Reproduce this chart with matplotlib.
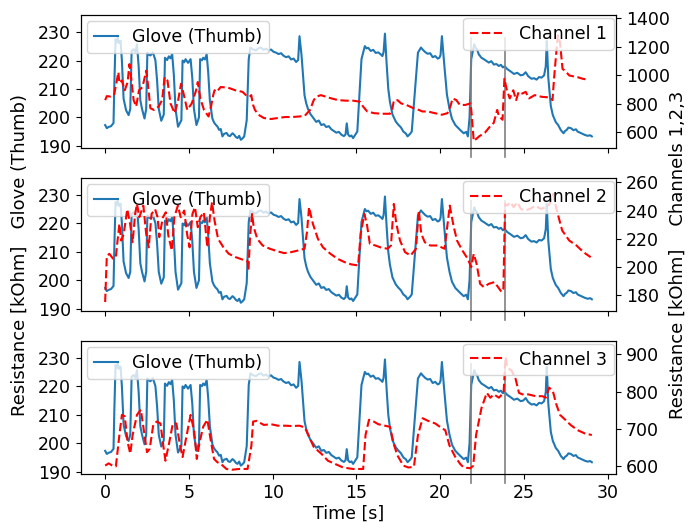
import numpy as np
import matplotlib.pyplot as plt

plt.rcParams['font.size'] = 12.5

# glove (thumb) resistance, same curve in all three panels (10 points per line)
t_glove = [0, 0.1, 0.2, 0.35, 0.5, 0.55, 0.62, 0.68, 0.75, 0.82,
           0.92, 1.0, 1.1, 1.25, 1.4, 1.5, 1.58, 1.7, 1.8, 1.9,
           2.0, 2.1, 2.2, 2.35, 2.45, 2.52, 2.6, 2.7, 2.85, 3.0,
           3.1, 3.2, 3.35, 3.5, 3.57, 3.7, 3.8, 3.9, 4.0, 4.1,
           4.2, 4.35, 4.55, 4.62, 4.72, 4.8, 4.95, 5.1, 5.2, 5.3,
           5.45, 5.6, 5.67, 5.78, 5.85, 5.95, 6.06, 6.15, 6.25, 6.4,
           6.5, 6.6, 6.7, 6.8, 6.9, 7.0, 7.1, 7.25, 7.35, 7.45,
           7.6, 7.7, 7.8, 7.9, 8.0, 8.1, 8.2, 8.3, 8.45, 8.57,
           8.67, 8.8, 9.0, 9.15, 9.3, 9.45, 9.6, 9.75, 9.9, 10.05,
           10.2, 10.35, 10.5, 10.65, 10.8, 10.95, 11.1, 11.25, 11.4, 11.52,
           11.6, 11.72, 11.9, 12.0, 12.1, 12.25, 12.45, 12.6, 12.75, 12.9,
           13.05, 13.2, 13.35, 13.5, 13.65, 13.8, 13.95, 14.1, 14.25, 14.35,
           14.42, 14.5, 14.6, 14.7, 14.8, 15.05, 15.2, 15.3, 15.5, 15.6,
           15.7, 15.85, 16.0, 16.15, 16.3, 16.45, 16.55, 16.62, 16.7, 16.8,
           16.9, 17.0, 17.15, 17.35, 17.5, 17.65, 17.8, 17.95, 18.05, 18.2,
           18.3, 18.5, 18.67, 18.85, 18.95, 19.1, 19.25, 19.4, 19.55, 19.7,
           19.85, 19.95, 20.02, 20.1, 20.25, 20.4, 20.55, 20.7, 20.9, 21.05,
           21.2, 21.4, 21.55, 21.65, 21.75, 21.85, 22.03, 22.1, 22.2, 22.3,
           22.46, 22.6, 22.75, 22.9, 23.05, 23.2, 23.35, 23.5, 23.62, 23.74,
           23.85, 24.0, 24.2, 24.4, 24.6, 24.8, 24.95, 25.1, 25.25, 25.45,
           25.6, 25.75, 25.9, 26.05, 26.2, 26.3, 26.36, 26.45, 26.6, 26.72,
           26.9, 27.04, 27.2, 27.36, 27.45, 27.55, 27.65, 27.8, 27.95, 28.1,
           28.2, 28.35, 28.5, 28.64, 28.8, 28.95, 29.05]
glove = [197.3, 196.2, 196.6, 196.9, 198.0, 212, 227.5, 226.4, 228, 226.2,
         227, 220, 206.6, 202.5, 200.8, 203, 223.4, 224, 223, 225.7,
         218, 206, 203, 199.6, 203, 222.8, 222.2, 221.8, 222.9, 220.1,
         213, 203, 198.8, 201, 221, 220.2, 221.5, 220.8, 222.3, 215,
         203, 196.7, 199, 220, 219.4, 220.5, 219.2, 220.5, 214, 203,
         197.3, 200, 220.5, 220.1, 221, 220.4, 222.2, 216, 206, 199.6,
         198.2, 197.4, 196.8, 195.6, 195.9, 193.3, 194.2, 194.5, 193.6, 193.4,
         194.4, 193.9, 193.1, 192.7, 193.5, 192.1, 192.6, 193.3, 199, 220.5,
         224.6, 224.0, 223.6, 224.3, 224.6, 223.8, 224.2, 223.5, 223.9, 223.1,
         222.8, 222.3, 222.6, 221.7, 221.2, 221.5, 220.4, 220.7, 219.5, 220.2,
         228.6, 222, 207.8, 205, 203.1, 201.2, 199.6, 198.4, 198.9, 197.3,
         197.6, 196.6, 196.9, 195.8, 195.2, 194.6, 194.9, 193.9, 193.4, 194,
         197.9, 194, 193.3, 193.6, 192.7, 195, 210, 220.5, 225.1, 224.3,
         224.5, 223.4, 223.8, 222.7, 222.9, 222.2, 221.6, 223, 229.5, 219,
         210, 205.4, 201, 198.5, 197.4, 196.5, 195, 194.3, 193.3, 194.2,
         195, 210, 222.8, 224.6, 223.9, 223, 222.4, 222.6, 221.2, 221.6,
         220.7, 221, 222, 228.6, 218, 208, 203.1, 199.5, 197.3, 196.4,
         195.5, 194.4, 194.9, 193.3, 200, 220.5, 225.7, 224.6, 223.9, 222.2,
         221, 220.5, 219.9, 219.3, 219.8, 218.6, 218.8, 218.1, 218.5, 217.6,
         218, 217, 216.2, 215.3, 215.7, 214.8, 215.0, 215.9, 214.5, 213.6,
         213.8, 213.3, 214.2, 214.0, 214.8, 218, 226.9, 214, 204, 200.8,
         198.3, 197.3, 195.5, 194.4, 195.2, 195.6, 196.4, 196.2, 195.5, 195.8,
         195, 194.6, 194.2, 193.8, 193.5, 193.7, 193.3]

t_ch1 = [0, 0.1, 0.32, 0.53, 0.7, 0.79, 0.85, 1.0, 1.17, 1.34, 1.45, 1.55, 1.7, 1.85, 2.02, 2.23, 2.45, 2.55,
         2.7, 2.91, 3.19, 3.4, 3.55, 3.72, 3.9, 4.15, 4.36, 4.53, 4.68, 4.9, 5.17, 5.43, 5.53, 5.68, 5.9,
         6.17, 6.32, 6.45, 6.53, 6.66, 6.9, 7.34, 7.77, 8.2, 8.4, 8.62, 8.72, 8.83, 8.94, 9.15, 9.47, 9.9,
         10.3, 10.74, 11.17, 11.6, 11.92, 12.23, 12.45, 12.6, 12.87, 13.2, 13.5, 13.9, 14.36, 14.8, 15.2,
         15.4, 15.64, 16.06, 16.5, 17.0, 17.13, 17.23, 17.45, 17.66, 17.98, 18.4, 18.72, 18.94, 19.26,
         19.68, 20.1, 20.43, 20.6, 20.74, 20.96, 21.17, 21.5, 21.81, 21.87, 22.0, 22.13, 22.34, 22.66,
         22.98, 23.19, 23.4, 23.51, 23.72, 23.83, 23.98, 24.15, 24.36, 24.53, 24.68, 24.9, 25.1, 25.3,
         25.64, 26.06, 26.5, 26.7, 26.8, 26.9, 27.02, 27.15, 27.3, 27.45, 27.7, 28.2, 28.5, 28.83]
ch1 = [825, 853, 850, 860, 963, 1021, 945, 963, 894, 950, 1078, 985, 825, 779, 894, 917, 1032, 940, 768,
       756, 779, 825, 986, 963, 802, 733, 825, 940, 871, 756, 802, 894, 952, 837, 756, 710, 779, 860, 894,
       883, 917, 912, 894, 883, 860, 848, 860, 791, 756, 722, 699, 692, 699, 706, 706, 710, 715, 756, 825,
       848, 860, 848, 837, 825, 821, 821, 814, 779, 745, 733, 729, 729, 756, 821, 825, 802, 791, 768, 756,
       745, 745, 733, 722, 733, 779, 837, 825, 791, 791, 802, 733, 538, 550, 572, 595, 641, 664, 756, 710,
       687, 975, 894, 837, 894, 825, 883, 871, 883, 837, 860, 848, 844, 825, 986, 1124, 1280, 1230, 1044,
       1032, 998, 986, 975, 968]

t_ch2 = [0, 0.1, 0.25, 0.47, 0.64, 0.72, 0.85, 0.96, 1.11, 1.32, 1.49, 1.64, 1.79, 1.9, 2.04, 2.28, 2.45,
         2.6, 2.77, 2.98, 3.13, 3.23, 3.45, 3.62, 3.77, 3.98, 4.13, 4.34, 4.51, 4.72, 4.89, 5.04, 5.21,
         5.36, 5.53, 5.68, 5.89, 6.1, 6.25, 6.38, 6.53, 6.74, 7.06, 7.38, 7.8, 8.23, 8.49, 8.55, 8.66, 8.77,
         8.87, 9.08, 9.4, 9.83, 10.26, 10.68, 11.1, 11.53, 11.9, 12.05, 12.17, 12.4, 12.7, 13.0, 13.45,
         13.87, 14.3, 14.7, 15.1, 15.25, 15.47, 15.62, 15.8, 16.13, 16.43, 16.85, 17.06, 17.23, 17.38,
         17.6, 17.9, 18.23, 18.55, 18.72, 18.87, 19.08, 19.4, 19.83, 20.26, 20.57, 20.79, 21.0, 21.32,
         21.64, 21.85, 22.0, 22.17, 22.38, 22.6, 22.9, 23.23, 23.45, 23.66, 23.77, 23.87, 23.98, 24.2,
         24.38, 24.6, 24.81, 25.04, 25.36, 25.68, 26.0, 26.32, 26.53, 26.74, 26.96, 27.28, 27.7, 28.13,
         28.55, 28.98]
ch2 = [175.3, 208, 209.4, 206, 207.1, 216.5, 230.6, 218.8, 223.5, 241, 230.6, 217.6, 237.6, 244.7, 235.3,
       243.5, 223.5, 214, 237.6, 241, 235.3, 221.2, 235.3, 238.8, 222.4, 211.8, 235.3, 243.5, 235.3, 240,
       223.5, 214, 237.6, 242.4, 228.2, 235.3, 238.8, 214, 235.3, 245.9, 232.9, 220, 214, 209.4, 207,
       205.2, 204.7, 197.6, 223.5, 237.6, 228.2, 220, 215.3, 213, 211.3, 209.9, 210.6, 211.8, 213, 225,
       242.4, 230.6, 220, 214, 209.4, 205.9, 203.5, 201.9, 201.2, 223.5, 237.6, 230.6, 216.5, 215.3, 214,
       213, 215.3, 244.7, 230.6, 218.8, 210.6, 208.2, 212.9, 240, 223.5, 217.6, 215.3, 215.3, 213, 243.5,
       229.4, 218.8, 211.8, 205.9, 200, 209.4, 202.4, 188.2, 185.9, 188.2, 189.4, 185.9, 182.4, 184.7,
       244.7, 243.5, 245.9, 242.4, 245.9, 241.2, 240, 241.2, 243.5, 241.2, 242.4, 244.7, 251.8, 240,
       225.9, 218.8, 215.3, 210.6, 207]

t_ch3 = [0, 0.21, 0.43, 0.64, 0.85, 1.0, 1.17, 1.34, 1.5, 1.64, 1.9, 2.13, 2.35, 2.5, 2.66, 2.87, 3.08, 3.3,
         3.47, 3.6, 3.83, 4.04, 4.25, 4.47, 4.62, 4.83, 5.1, 5.32, 5.47, 5.64, 5.85, 6.1, 6.32, 6.5, 6.7,
         6.92, 7.24, 7.56, 8.0, 8.5, 8.73, 8.83, 9.05, 9.47, 9.9, 10.3, 10.75, 11.17, 11.6, 11.92, 12.13,
         12.45, 12.9, 13.3, 13.75, 14.2, 14.8, 15.4, 15.54, 15.75, 15.96, 16.3, 16.7, 17.0, 17.25, 17.45,
         17.8, 18.1, 18.43, 18.67, 18.95, 19.27, 19.7, 20.1, 20.3, 20.55, 20.9, 21.2, 21.4, 21.8, 21.97,
         22.14, 22.46, 22.78, 22.99, 23.2, 23.5, 23.78, 23.9, 24.0, 24.27, 24.5, 24.7, 24.9, 25.25, 25.7,
         26.1, 26.3, 26.5, 26.72, 26.93, 27.15, 27.46, 27.78, 28.2, 28.64, 29.05]
ch3 = [602, 608, 602, 600, 684, 738, 734, 665, 634, 684, 738, 752, 684, 638, 647, 711, 720, 715, 656, 615,
       665, 715, 715, 656, 625, 675, 738, 693, 620, 665, 706, 725, 665, 620, 611, 606, 593, 591, 593, 593,
       656, 720, 722, 711, 713, 709, 709, 708, 709, 704, 684, 652, 634, 615, 606, 597, 593, 593, 684, 725,
       722, 713, 709, 706, 656, 629, 602, 597, 599, 684, 729, 722, 715, 702, 697, 656, 625, 606, 597, 595,
       602, 684, 756, 797, 784, 793, 784, 797, 893, 865, 856, 834, 797, 793, 793, 788, 788, 784, 811, 802,
       766, 738, 725, 711, 697, 688, 684]

ch_names = ['Channel 1', 'Channel 2', 'Channel 3']
ch_ticks = [[600, 800, 1000, 1200, 1400], [180, 200, 220, 240, 260], [600, 700, 800, 900]]
ch_lims = [(488, 1422), (169, 263), (580, 936)]
markers = [21.85, 23.85]   # gray vertical lines [s]

fig, axes = plt.subplots(3, 1, sharex=True, figsize=(6.97, 5.23), dpi=100)
plt.subplots_adjust(left=0.116, right=0.884, top=0.971, bottom=0.094, hspace=0.226)

series = [(t_ch1, ch1), (t_ch2, ch2), (t_ch3, ch3)]
for i, ax in enumerate(axes):
    tc, ch = series[i]
    ax.plot(t_glove, glove, color='#1f77b4', lw=1.5, label='Glove (Thumb)')
    ax.set_ylim(189.2, 236)
    ax.set_yticks([190, 200, 210, 220, 230])
    for m in markers:
        ax.axvline(m, ymin=-0.07, ymax=0.83, color='gray', lw=1.2, clip_on=False)
    ax.legend(loc='upper left', borderaxespad=0.35, handlelength=1.4)
    ax2 = ax.twinx()
    ax2.plot(tc, ch, color='r', ls=(0, (4, 1.7)), lw=1.5, label=ch_names[i])
    ax2.set_ylim(*ch_lims[i])
    ax2.set_yticks(ch_ticks[i])
    ax2.legend(loc='upper right', borderaxespad=0.15)

axes[-1].set_xlim(-1.45, 30.5)
axes[-1].set_xticks([0, 5, 10, 15, 20, 25, 30])
axes[-1].set_xlabel('Time [s]', labelpad=2)

fig.text(0.028, 0.512, 'Resistance [kOhm]   Glove (Thumb)', rotation=90, ha='center', va='center',
         fontsize=13)
fig.text(0.972, 0.512, 'Resistance [kOhm]    Channels 1,2,3', rotation=90, ha='center', va='center',
         fontsize=13)

plt.savefig('out.png')
